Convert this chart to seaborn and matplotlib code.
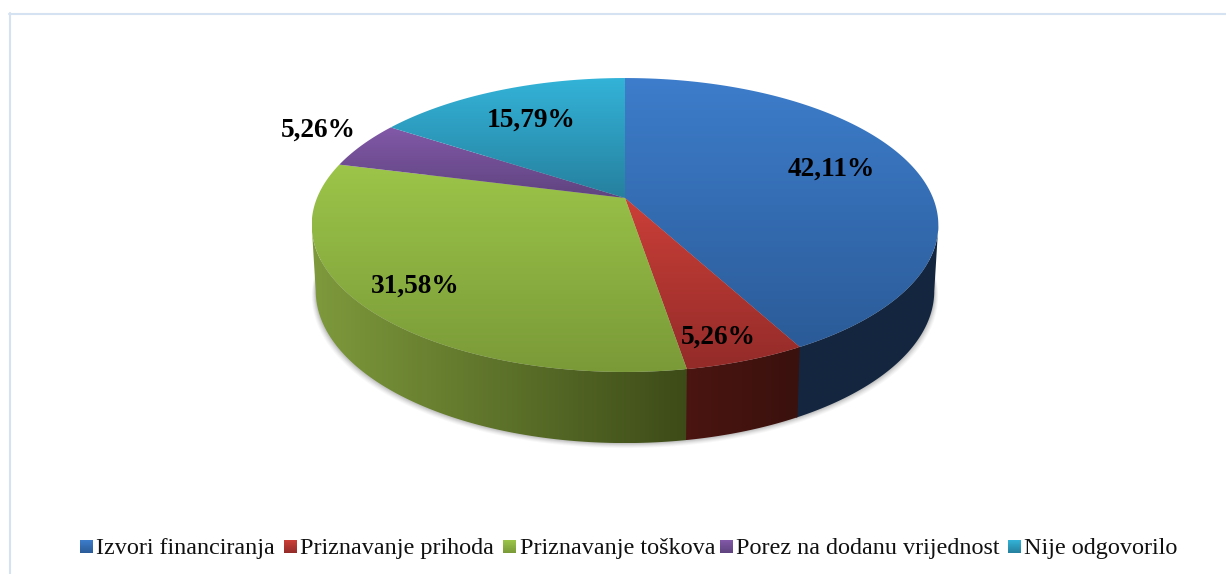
import numpy as np
import matplotlib
matplotlib.use("Agg")
import matplotlib.pyplot as plt
from matplotlib.colors import LinearSegmentedColormap
from matplotlib.patches import Polygon
import seaborn as sns

categories = ["Izvori financiranja", "Priznavanje prihoda", "Priznavanje toškova",
              "Porez na dodanu vrijednost", "Nije odgovorilo"]
values = [42.11, 5.26, 31.58, 5.26, 15.79]

top_light = ["#3d7dcb", "#cc3f38", "#9cc549", "#8259a8", "#33b3d8"]
top_dark = ["#2b5b98", "#932b29", "#7a9a38", "#5f437f", "#26809e"]
side_left = ["#14263f", "#4b1511", "#7e9a3c", "#4a3463", "#1d6a82"]
side_right = ["#15273f", "#3a110d", "#3d4b18", "#4a3463", "#1d6a82"]

sns.set_theme(style="white")
plt.rcParams["font.family"] = ["Liberation Serif", "DejaVu Serif"]

# pixel coords so the perspective ellipses line up with the picture
fig = plt.figure(figsize=(12.26, 5.74), dpi=100)
ax = fig.add_axes([0, 0, 1, 1])

k = 0.1837
# only this part of the rim faces the viewer
front_lo = np.pi - np.arccos(k)
front_hi = np.pi + np.arccos(k)


def rim(phi, cy, a, b):
    # phi is clockwise from 12 o'clock, k gives the perspective
    s = -np.cos(phi)
    d = 1 - k * s
    return 625 + a * np.sin(phi) / d, cy + b * s / d


def top_rim(phi):
    return rim(phi, 198, 308, 142)


def bottom_rim(phi):
    return rim(phi, 263, 304, 147)


def gradient(poly, c0, c1, z, horizontal=False):
    cmap = LinearSegmentedColormap.from_list("g", [c0, c1])
    xs, ys = poly[:, 0], poly[:, 1]
    ramp = np.linspace(0, 1, 256)
    img = ramp.reshape(1, -1) if horizontal else ramp.reshape(-1, 1)
    ext = (xs.min(), xs.max(), ys.max(), ys.min())
    im = ax.imshow(img, cmap=cmap, extent=ext, aspect="auto", vmin=0, vmax=1,
                   interpolation="bilinear", zorder=z)
    clip = Polygon(poly, transform=ax.transData, facecolor="none", edgecolor="none")
    ax.add_patch(clip)
    im.set_clip_path(clip)


edges = np.radians(np.cumsum([0] + values) * 3.6 * 100 / sum(values))

# soft shadow under the disc
all_phi = np.linspace(0, 2 * np.pi, 400)
bx, by = bottom_rim(all_phi)
for grow, alpha in zip([5, 4, 3, 2, 1], [0.05, 0.07, 0.09, 0.12, 0.15]):
    ax.add_patch(Polygon(np.column_stack([625 + (bx - 625) * (1 + grow / 400), by + grow]),
                         facecolor="#707070", edgecolor="none", alpha=alpha, zorder=1))

# walls first, the top faces are painted over them
for i in range(len(values)):
    lo = max(edges[i], front_lo)
    hi = min(edges[i + 1] + 0.006, front_hi)
    if hi <= lo:
        continue
    phi = np.linspace(lo, hi, 120)
    tx, ty = top_rim(phi)
    bx, by = bottom_rim(phi)
    poly = np.vstack([np.column_stack([tx, ty]), np.column_stack([bx, by])[::-1]])
    gradient(poly, side_left[i], side_right[i], 2, horizontal=True)

for i in range(len(values)):
    phi = np.linspace(edges[i], edges[i + 1], 200)
    tx, ty = top_rim(phi)
    poly = np.vstack([[625, 198], np.column_stack([tx, ty])])
    gradient(poly, top_light[i], top_dark[i], 3)

# value labels
label_x = [831, 718, 415, 318, 531]
label_y = [169, 337, 286, 130, 120]
for v, lx, ly in zip(values, label_x, label_y):
    ax.text(lx, ly, f"{v:.2f}%".replace(".", ","), ha="center", va="center",
            fontsize=19.7, fontweight="bold", color="black", zorder=5)

# legend row
swatch_x = [80, 284, 503, 720, 1008]
for i, name in enumerate(categories):
    sq = np.array([[swatch_x[i], 540], [swatch_x[i] + 13, 540],
                   [swatch_x[i] + 13, 553], [swatch_x[i], 553]], dtype=float)
    gradient(sq, top_light[i], top_dark[i], 3)
    ax.text(swatch_x[i] + 16.5, 554, name, ha="left", va="baseline", fontsize=17.35,
            color="#111111", zorder=5)

# frame of the chart area, only top and left show
ax.plot([10, 10], [13, 574], color="#d5e2f2", lw=1.5, zorder=0)
ax.plot([9, 1226], [14, 14], color="#d5e2f2", lw=1.5, zorder=0)

ax.set_xlim(0, 1226)
ax.set_ylim(574, 0)
ax.axis("off")
fig.savefig("out.png", dpi=100, facecolor="white")
